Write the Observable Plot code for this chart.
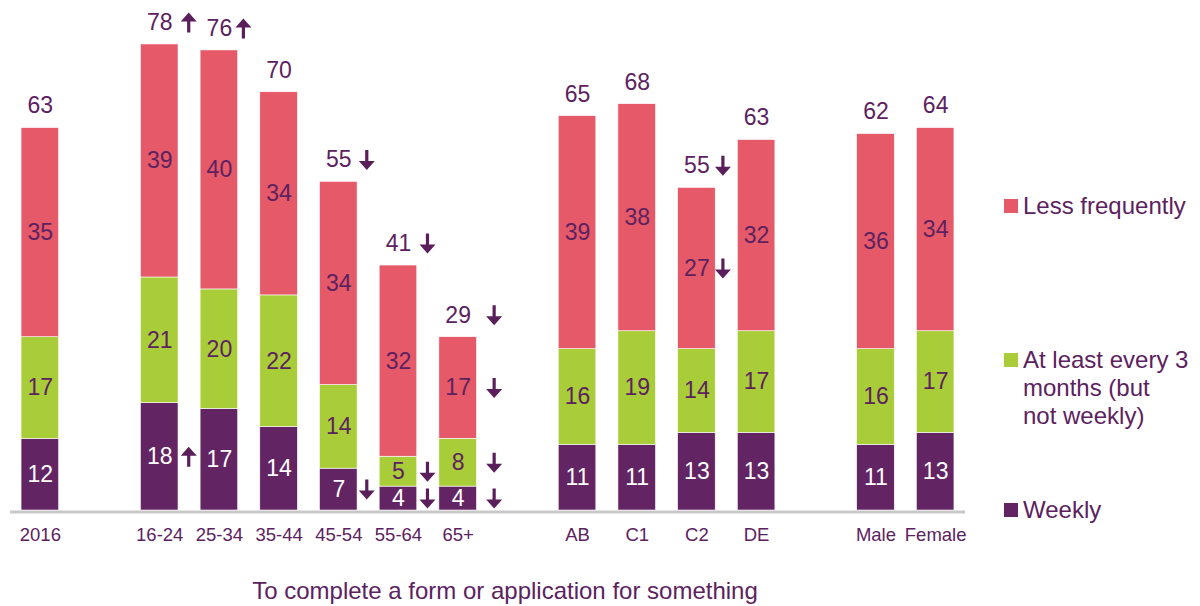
<!DOCTYPE html>
<html>
<head>
<meta charset="utf-8">
<script src="https://cdn.jsdelivr.net/npm/d3@7"></script>
<script src="https://cdn.jsdelivr.net/npm/@observablehq/plot@0.6"></script>
<style>
  body { margin: 0; background: #fff; font-family: "Liberation Sans", Arial, sans-serif; }
  #wrap { position: relative; width: 1200px; height: 606px; overflow: hidden; }
  #chart { position: absolute; left: 0; top: 0; }
  .legend-item { position: absolute; left: 1004px; display: flex; align-items: flex-start; font-size: 24px; line-height: 28px; color: #5c2260; white-space: pre-line; }
  .legend-item .sw { width: 14px; height: 14px; margin-top: 7px; margin-right: 5px; flex: none; }
  #caption { position: absolute; left: 0; width: 1010px; top: 577px; text-align: center; font-size: 24px; line-height: 28px; color: #5c2260; }
</style>
</head>
<body>
<div id="wrap">
  <div id="chart"></div>
  <div id="legend"></div>
  <div id="caption"></div>
</div>
<script>
// ---- data ----
const categories = ["2016", "16-24", "25-34", "35-44", "45-54", "55-64", "65+", "AB", "C1", "C2", "DE", "Male", "Female"];
const weekly     = [12, 18, 17, 14,  7,  4,  4, 11, 11, 13, 13, 11, 13];
const atLeast3   = [17, 21, 20, 22, 14,  5,  8, 16, 19, 14, 17, 16, 17];
const lessFreq   = [35, 39, 40, 34, 34, 32, 17, 39, 38, 27, 32, 36, 34];
const totals     = [63, 78, 76, 70, 55, 41, 29, 65, 68, 55, 63, 62, 64];
const seriesNames = ["Weekly", "At least every 3 months (but not weekly)", "Less frequently"];
const legendLabels = ["Less frequently", "At least every 3\nmonths (but\nnot weekly)", "Weekly"];
const legendSeries = ["Less frequently", "At least every 3 months (but not weekly)", "Weekly"];
const caption = "To complete a form or application for something";
// significance arrows: category, level, direction
const arrowCats   = ["16-24", "25-34", "16-24", "45-54", "45-54", "55-64", "55-64", "55-64", "65+", "65+", "65+", "65+", "C2", "C2"];
const arrowLevels = ["Total", "Total", "Weekly", "Total", "Weekly", "Total", "At least every 3 months (but not weekly)", "Weekly",
                     "Total", "Less frequently", "At least every 3 months (but not weekly)", "Weekly", "Total", "Less frequently"];
const arrowDirs   = ["up", "up", "up", "down", "down", "down", "down", "down", "down", "down", "down", "down", "down", "down"];

// ---- style / layout ----
const colors = ["#632463", "#a9cd38", "#e55968"];
const textPurple = "#5c2260";
const arrowPurple = "#5a1f5a";
const arrowDx = {"16-24": 29, "25-34": 24, "45-54": 28, "55-64": 29, "65+": 36, "C2": 26};
const slots = ["2016", "_g1", "16-24", "25-34", "35-44", "45-54", "55-64", "65+", "_g2", "AB", "C1", "C2", "DE", "_g3", "Male", "Female"];

// ---- derived rows ----
const seriesValues = [weekly, atLeast3, lessFreq];
const rows = [];
const tops = {};
categories.forEach((cat, i) => {
  let acc = 0;
  seriesNames.forEach((s, j) => {
    const v = seriesValues[j][i];
    rows.push({cat, series: s, value: v, y1: acc, y2: acc + v, mid: acc + v / 2});
    acc += v;
  });
  tops[cat] = acc;
});
const totalRows = categories.map((cat, i) => ({cat, total: totals[i], top: tops[cat]}));
const arrowRows = arrowCats.map((cat, i) => {
  const lvl = arrowLevels[i];
  const y = lvl === "Total" ? tops[cat] : rows.find(r => r.cat === cat && r.series === lvl).mid;
  return {cat, level: lvl, dir: arrowDirs[i], y};
});

const downArrow = {draw(ctx) {
  ctx.moveTo(-1.6, -10); ctx.lineTo(1.6, -10); ctx.lineTo(1.6, 1); ctx.lineTo(8, 1);
  ctx.lineTo(0, 10); ctx.lineTo(-8, 1); ctx.lineTo(-1.6, 1); ctx.closePath();
}};
const upArrow = {draw(ctx) {
  ctx.moveTo(-1.6, 10); ctx.lineTo(1.6, 10); ctx.lineTo(1.6, -1); ctx.lineTo(8, -1);
  ctx.lineTo(0, -10); ctx.lineTo(-8, -1); ctx.lineTo(-1.6, -1); ctx.closePath();
}};

const marks = [
  Plot.barY(rows, {x: "cat", y1: "y1", y2: "y2", fill: "series", stroke: "#ffffff", strokeWidth: 0.6}),
  Plot.ruleY([0], {stroke: "#c8c8c8", strokeWidth: 3, dy: 1.5}),
  Plot.text(rows.filter(r => r.series === "Weekly"), {x: "cat", y: "mid", text: d => String(d.value), fill: "#ffffff", fontSize: 23}),
  Plot.text(rows.filter(r => r.series !== "Weekly"), {x: "cat", y: "mid", text: d => String(d.value), fill: textPurple, fontSize: 23}),
  Plot.text(totalRows, {x: "cat", y: "top", dy: -22, text: d => String(d.total), fill: textPurple, fontSize: 23}),
  Plot.axisX(categories, {tickSize: 0, tickPadding: 17, fontSize: 18.5, fill: textPurple, label: null}),
  ...arrowRows.map(a => Plot.dot([a], {
    x: "cat", y: "y", dx: arrowDx[a.cat], dy: a.level === "Total" ? -22 : 0,
    symbol: a.dir === "up" ? upArrow : downArrow, fill: arrowPurple, stroke: null, r: 8
  }))
];

const chart = Plot.plot({
  width: 1200,
  height: 560,
  marginLeft: 10,
  marginRight: 235,
  marginTop: 32,
  marginBottom: 50,
  style: {fontFamily: "'Liberation Sans', Arial, sans-serif", background: "transparent", overflow: "visible"},
  x: {type: "band", domain: slots, paddingInner: 0.37, paddingOuter: 0.185, round: false, axis: null, label: null},
  y: {domain: [0, 80], axis: null},
  color: {domain: seriesNames, range: colors},
  marks
});
document.getElementById("chart").appendChild(chart);

// legend
const legendTops = [192, 346, 496];
const legend = document.getElementById("legend");
legendLabels.forEach((lab, i) => {
  const item = document.createElement("div");
  item.className = "legend-item";
  item.style.top = legendTops[i] + "px";
  const sw = document.createElement("span");
  sw.className = "sw";
  sw.style.background = colors[seriesNames.indexOf(legendSeries[i])];
  const t = document.createElement("span");
  t.textContent = lab;
  item.appendChild(sw); item.appendChild(t);
  legend.appendChild(item);
});
document.getElementById("caption").textContent = caption;
</script>
</body>
</html>
